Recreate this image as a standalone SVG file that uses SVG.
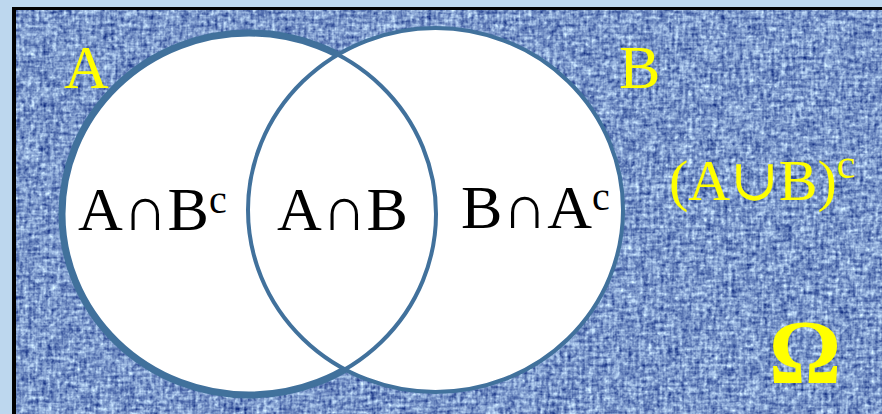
<svg xmlns="http://www.w3.org/2000/svg" width="882" height="414" viewBox="0 0 882 414">
  <defs>
    <filter id="weave" x="0" y="0" width="100%" height="100%" color-interpolation-filters="sRGB">
      <feTurbulence type="fractalNoise" baseFrequency="0.05 0.28" numOctaves="2" seed="4" result="h"/>
      <feTurbulence type="fractalNoise" baseFrequency="0.28 0.05" numOctaves="2" seed="9" result="v"/>
      <feTurbulence type="fractalNoise" baseFrequency="0.25" numOctaves="2" seed="2" result="g"/>
      <feComposite in="h" in2="v" operator="arithmetic" k1="0" k2="0.5" k3="0.5" k4="0" result="hv"/>
      <feComposite in="hv" in2="g" operator="arithmetic" k1="0" k2="0.6" k3="0.4" k4="0" result="n"/>
      <feColorMatrix in="n" type="matrix" values="1.6 0 0 0 -0.32  1.6 0 0 0 -0.21  1.1 0 0 0 0.24  0 0 0 0 1"/>
    </filter>
    <style>
      .ring { fill: #ffffff; stroke: #41719c; }
      .yel { fill: #ffff00; }
      .blk { fill: #000000; }
    </style>
  </defs>

  <rect x="0" y="0" width="882" height="414" fill="#bdd7ee"/>
  <rect x="12" y="7" width="870" height="407" fill="#000000"/>
  <rect x="16" y="10" width="866" height="404" fill="#6a8cc6"/>
  <rect x="16" y="10" width="866" height="404" filter="url(#weave)"/>

  <g id="setA">
    <ellipse class="ring" cx="249" cy="214" rx="187" ry="181" stroke-width="7"/>
  </g>
  <g id="setB">
    <ellipse class="ring" cx="435.5" cy="210" rx="187.5" ry="182" stroke-width="4"/>
    <ellipse cx="249" cy="214" rx="187" ry="181" fill="none" stroke="#41719c" stroke-width="4"/>
  </g>
  <g id="connectors"/>

  <g id="label-A"><text class="yel" font-family="'Liberation Serif', 'DejaVu Serif', serif" x="64" y="88" font-size="62">A</text></g>
  <g id="label-B"><text class="yel" font-family="'Liberation Serif', 'DejaVu Serif', serif" x="619" y="88" font-size="62">B</text></g>
  <g id="region-AnotB"><text class="blk" font-family="'Liberation Serif', 'DejaVu Serif', serif" x="78" y="230" font-size="62">A∩B<tspan font-size="40" dy="-17">c</tspan></text></g>
  <g id="region-AB"><text class="blk" font-family="'Liberation Serif', 'DejaVu Serif', serif" x="277" y="230" font-size="62">A∩B</text></g>
  <g id="region-BnotA"><text class="blk" font-family="'Liberation Serif', 'DejaVu Serif', serif" x="461" y="228" font-size="62">B∩A<tspan font-size="40" dy="-18">c</tspan></text></g>
  <g id="region-outside"><text class="yel" font-family="'Liberation Serif', 'DejaVu Serif', serif" x="669" y="200" font-size="58">(A∪B)<tspan font-size="42" dy="-22">c</tspan></text></g>
  <g id="omega"><text class="yel" font-family="'Liberation Serif', 'DejaVu Serif', serif" x="805" y="383" font-size="90" font-weight="bold" text-anchor="middle">Ω</text></g>
</svg>
